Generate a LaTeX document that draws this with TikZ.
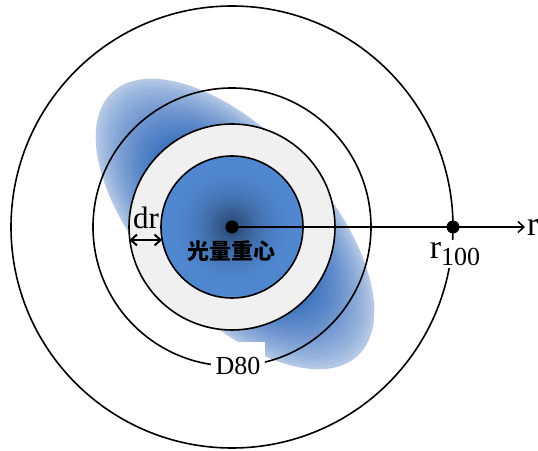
\documentclass[tikz,border=0pt]{standalone}
\usepackage{fontspec}
\setmainfont{Liberation Serif}
\newfontfamily\cjkfont{Noto Sans CJK SC}
\usetikzlibrary{arrows.meta, positioning}
\definecolor{ringgray}{RGB}{240,240,240}
\definecolor{ellblue}{RGB}{66,118,192}
\definecolor{ellpale}{RGB}{180,200,230}
\definecolor{diskedge}{RGB}{80,136,208}
\definecolor{diskcore}{RGB}{40,66,108}
\tikzset{
  ring/.style={draw=black, line width=1.6pt},
  dot/.style={circle, fill=black, inner sep=0pt, minimum size=13pt},
  seriflabel/.style={inner sep=1pt, font=\fontsize{26}{30}\selectfont},
  cjklabel/.style={inner sep=1pt, font=\cjkfont\bfseries\fontsize{22}{26}\selectfont},
  axis/.style={line width=1.5pt, -{Straight Barb[length=6pt,width=11pt,line width=1.5pt]}},
}

\begin{document}
\begin{tikzpicture}[x=1pt, y=1pt]
  \useasboundingbox (0,0) rectangle (538,450);
  \coordinate (C) at (232,223);

  % light spot
  \begin{scope}[shift={(235,226)}, rotate=-47]
    \foreach \k in {0,...,16}{
      \pgfmathsetmacro\s{1-0.025*\k}
      \pgfmathtruncatemacro\t{100*(\k/16)^0.8}
      \fill[ellblue!\t!ellpale] (0,0) ellipse ({180*\s} and {90*\s});
    }
  \end{scope}

  % rings
  \draw[ring] (C) circle (221);
  \draw[ring] (C) circle (139);
  \fill[ringgray] (C) circle (103);
  \draw[ring] (C) circle (103);
  \node[seriflabel, font=\fontsize{31}{34}\selectfont, anchor=base] (drlab) at (146,221) {dr};

  % core
  \foreach \k in {0,...,24}{
    \pgfmathsetmacro\rr{71*(1-\k/25)}
    \pgfmathtruncatemacro\t{100*(\k/24)^2.2}
    \fill[diskcore!\t!diskedge] (C) circle (\rr);
  }
  \draw[ring] (C) circle (71);

  % dr
  \coordinate (drA) at (129.5,210);
  \coordinate (drB) at (162,210);
  \draw[line width=2pt, {Straight Barb[length=6pt,width=11pt,line width=2pt]}-{Straight Barb[length=6pt,width=11pt,line width=2pt]}] (drA) -- (drB);

  % axis
  \node[dot] (ctr) at (C) {};
  \node[dot] (r100dot) at (453,223) {};
  \coordinate (rend) at (525,223);
  \draw[axis] (ctr.center) -- (rend);
  \node[seriflabel, font=\fontsize{34}{36}\selectfont, anchor=west, inner sep=2pt] (rlab) at (rend) {r};

  % labels
  \node[cjklabel] (cog) at (231,199) {光量重心};
  \node[fill=white, inner sep=2pt] (r100lab) at (455,196)
    {{\fontsize{34}{36}\selectfont r}\raisebox{-7pt}{\fontsize{26}{28}\selectfont 100}};
  \node[seriflabel, fill=white, minimum width=54pt, minimum height=48pt] (d80) at (238,84) {D80};
\end{tikzpicture}
\end{document}
